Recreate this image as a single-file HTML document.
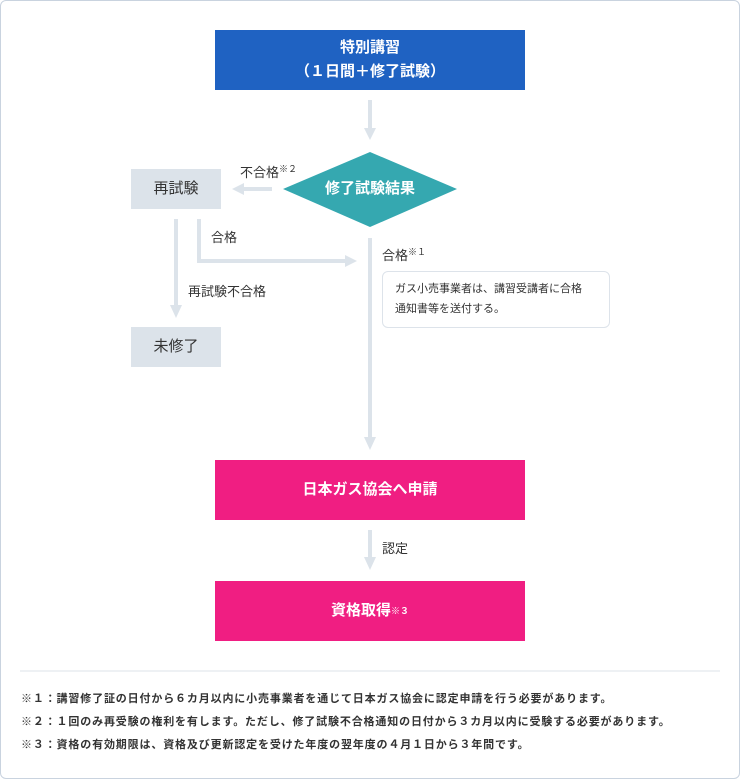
<!DOCTYPE html>
<html><head><meta charset="utf-8"><style>
body{margin:0;width:740px;height:779px;background:#fff;font-family:"Liberation Sans","Noto Sans CJK JP",sans-serif;color:#333;position:relative;overflow:hidden}
.frame{position:absolute;left:0;top:0;width:738px;height:777px;border:1px solid #c9d3df;border-radius:6px}
.b{position:absolute;display:flex;align-items:center;justify-content:center;text-align:center;font-weight:bold;font-size:15px;color:#fff;line-height:24px}
.g{background:#dce3ea;color:#333;font-weight:normal;font-size:15px}
.l{position:absolute;font-size:13px;color:#333;white-space:nowrap}
sup{font-size:9px;vertical-align:5px}
.fn{position:absolute;left:21px;font-size:11px;color:#333;white-space:nowrap;letter-spacing:0.85px;font-weight:bold}
</style></head><body>
<div class="frame"></div>
<svg width="740" height="779" style="position:absolute;left:0;top:0">
<g fill="#dce3ea">
<rect x="368" y="100" width="4" height="30"/><polygon points="364,128 376,128 370,140"/>
<rect x="244" y="187" width="28" height="4"/><polygon points="244,183 244,195 232,189"/>
<rect x="174" y="219" width="4" height="88"/><polygon points="170,305 182,305 176,318"/>
<rect x="197" y="219" width="4" height="44"/><rect x="197" y="259" width="148" height="4"/><polygon points="345,255 345,267 357,261"/>
<rect x="368" y="238" width="4" height="200"/><polygon points="364,437 376,437 370,450"/>
<rect x="368" y="530" width="4" height="28"/><polygon points="364,557 376,557 370,570"/>
</g>
<polygon points="283,189 370,152 457,189 370,227" fill="#35a8b0"/>
<line x1="20" y1="671" x2="720" y2="671" stroke="#dde3ea" stroke-width="1"/>
</svg>
<div class="b" style="left:215px;top:30px;width:310px;height:60px;background:#1f62c2">特別講習<br>（１日間＋修了試験）</div>
<div class="b" style="left:300px;top:176px;width:140px;height:26px">修了試験結果</div>
<div class="b g" style="left:131px;top:169px;width:90px;height:40px">再試験</div>
<div class="b g" style="left:131px;top:327px;width:90px;height:40px">未修了</div>
<div class="b" style="left:215px;top:460px;width:310px;height:60px;background:#f01e82">日本ガス協会へ申請</div>
<div class="b" style="left:215px;top:581px;width:310px;height:60px;background:#f01e82">資格取得<sup>※３</sup></div>
<div class="l" style="left:240px;top:162px">不合格<sup>※２</sup></div>
<div class="l" style="left:211px;top:227px">合格</div>
<div class="l" style="left:382px;top:245px">合格<sup>※１</sup></div>
<div class="l" style="left:188px;top:281px">再試験不合格</div>
<div class="l" style="left:382px;top:538px">認定</div>
<div style="position:absolute;left:382px;top:271px;width:214px;height:55px;border:1px solid #dde3ea;border-radius:6px;padding:0 0 0 12px;font-size:11px;line-height:20px;box-sizing:content-box"><div style="padding-top:7px">ガス小売事業者は、講習受講者に合格<br>通知書等を送付する。</div></div>
<div class="fn" style="top:690px">※１：講習修了証の日付から６カ月以内に小売事業者を通じて日本ガス協会に認定申請を行う必要があります。</div>
<div class="fn" style="top:713px">※２：１回のみ再受験の権利を有します。ただし、修了試験不合格通知の日付から３カ月以内に受験する必要があります。</div>
<div class="fn" style="top:736px">※３：資格の有効期限は、資格及び更新認定を受けた年度の翌年度の４月１日から３年間です。</div>
</body></html>
